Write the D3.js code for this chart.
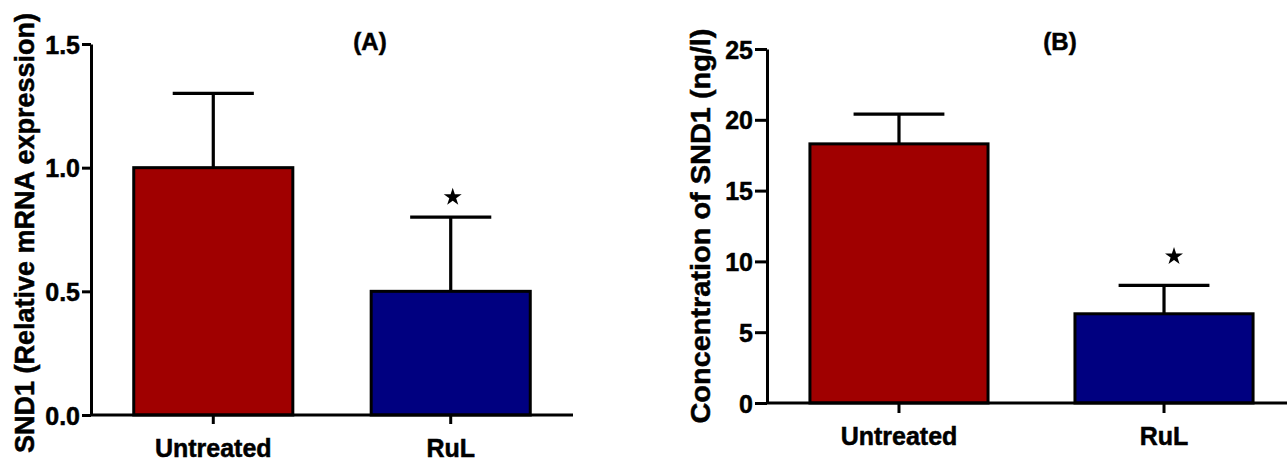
<!DOCTYPE html>
<html>
<head>
<meta charset="utf-8">
<script src="https://cdn.jsdelivr.net/npm/d3@7"></script>
<style>
  body { margin: 0; background: #fff; }
  svg { display: block; }
  text { font-family: "Liberation Sans", Arial, Helvetica, sans-serif; font-weight: bold; fill: #000; stroke: #000; stroke-width: 0.5px; }
</style>
</head>
<body>
<div id="chart"></div>
<script>
const width = 1287;
const height = 462;

const groups = ["Untreated", "RuL"];
const colors = ["#a00000", "#000080"];
const significant = [false, true];

// panel A: relative mRNA expression
const mrnaMean = [1.0, 0.5];
const mrnaSem = [0.3, 0.3];
const mrnaTicks = [0, 0.5, 1.0, 1.5];

// panel B: serum concentration
const concMean = [18.3, 6.3];
const concSem = [2.1, 2.0];
const concTicks = [0, 5, 10, 15, 20, 25];

const svg = d3.select("#chart").append("svg")
  .attr("width", width)
  .attr("height", height);

function drawPanel(opt) {
  const g = svg.append("g");

  const x = d3.scaleBand()
    .domain(groups)
    .range(opt.xRange)
    .paddingInner(opt.padIn)
    .paddingOuter(opt.padOut);

  const y = d3.scaleLinear()
    .domain([0, d3.max(opt.ticks)])
    .range(opt.yRange);

  const data = groups.map((k, i) => ({ key: k, mean: opt.mean[i], sem: opt.sem[i], color: colors[i], sig: significant[i] }));

  // bars
  g.selectAll("rect.bar")
    .data(data)
    .enter().append("rect")
    .attr("class", "bar")
    .attr("x", d => x(d.key))
    .attr("y", d => y(d.mean))
    .attr("width", x.bandwidth())
    .attr("height", d => y(0) - y(d.mean))
    .attr("fill", d => d.color)
    .attr("stroke", "#000")
    .attr("stroke-width", 3);

  // error bars (upper only)
  const cap = x.bandwidth() * 0.51;
  const eb = g.selectAll("g.err").data(data).enter().append("g").attr("class", "err")
    .attr("stroke", "#000").attr("stroke-width", 3.2);
  eb.append("line")
    .attr("x1", d => x(d.key) + x.bandwidth() / 2)
    .attr("x2", d => x(d.key) + x.bandwidth() / 2)
    .attr("y1", d => y(d.mean))
    .attr("y2", d => y(d.mean + d.sem));
  eb.append("line")
    .attr("x1", d => x(d.key) + x.bandwidth() / 2 - cap / 2)
    .attr("x2", d => x(d.key) + x.bandwidth() / 2 + cap / 2)
    .attr("y1", d => y(d.mean + d.sem))
    .attr("y2", d => y(d.mean + d.sem));

  // significance stars
  g.selectAll("path.star")
    .data(data.filter(d => d.sig))
    .enter().append("path")
    .attr("class", "star")
    .attr("d", d3.symbol(d3.symbolStar, 100))
    .attr("transform", d => `translate(${x(d.key) + x.bandwidth() / 2 + opt.starDx},${y(d.mean + d.sem) - opt.starGap})`)
    .attr("fill", "#000");

  // y axis
  const yAxis = g.append("g")
    .attr("transform", `translate(${opt.xRange[0]},0)`)
    .call(d3.axisLeft(y).tickValues(opt.ticks).tickFormat(opt.fmt)
      .tickSize(opt.yTick).tickSizeOuter(0).tickPadding(2));
  yAxis.selectAll("path, line").attr("stroke", "#000").attr("stroke-width", 3);
  yAxis.selectAll("text").style("font-size", opt.tickFont + "px").attr("dy", "0.36em");

  // x axis
  const xAxis = g.append("g")
    .attr("transform", `translate(0,${y(0)})`)
    .call(d3.axisBottom(x).tickSize(opt.xTick).tickSizeOuter(0));
  xAxis.select(".domain").attr("d", `M${opt.xRange[0]},0H${opt.xEnd}`);
  xAxis.selectAll("path, line").attr("stroke", "#000").attr("stroke-width", 3);
  xAxis.selectAll("text").style("font-size", "25px").attr("dy", 0)
    .attr("y", 42);

  // y label
  g.append("text")
    .attr("transform", `translate(${opt.labelX},${opt.labelY}) rotate(-90)`)
    .attr("text-anchor", "middle")
    .style("font-size", opt.labelFont + "px")
    .attr("textLength", opt.labelLen)
    .attr("lengthAdjust", "spacingAndGlyphs")
    .text(opt.label);

  // panel title
  g.append("text")
    .attr("x", opt.titleX)
    .attr("y", 50)
    .attr("text-anchor", "middle")
    .style("font-size", "24px")
    .text(opt.title);
}

drawPanel({
  mean: mrnaMean, sem: mrnaSem, ticks: mrnaTicks,
  fmt: d3.format(".1f"),
  xRange: [91, 573], xEnd: 573, padIn: 0.33, padOut: 0.18,
  yRange: [415, 44],
  yTick: 9, xTick: 9, tickFont: 25,
  starDx: 2, starGap: 20,
  label: "SND1 (Relative mRNA expression)",
  labelX: 34, labelY: 233, labelFont: 27, labelLen: 440,
  title: "(A)", titleX: 370
});

drawPanel({
  mean: concMean, sem: concSem, ticks: concTicks,
  fmt: d3.format("d"),
  xRange: [767, 1296], xEnd: 1290, padIn: 0.328, padOut: 0.162,
  yRange: [403, 49],
  yTick: 12, xTick: 10, tickFont: 25,
  starDx: 10, starGap: 29,
  label: "Concentration of SND1 (ng/l)",
  labelX: 710, labelY: 226, labelFont: 28.5, labelLen: 395,
  title: "(B)", titleX: 1060
});
</script>
</body>
</html>
